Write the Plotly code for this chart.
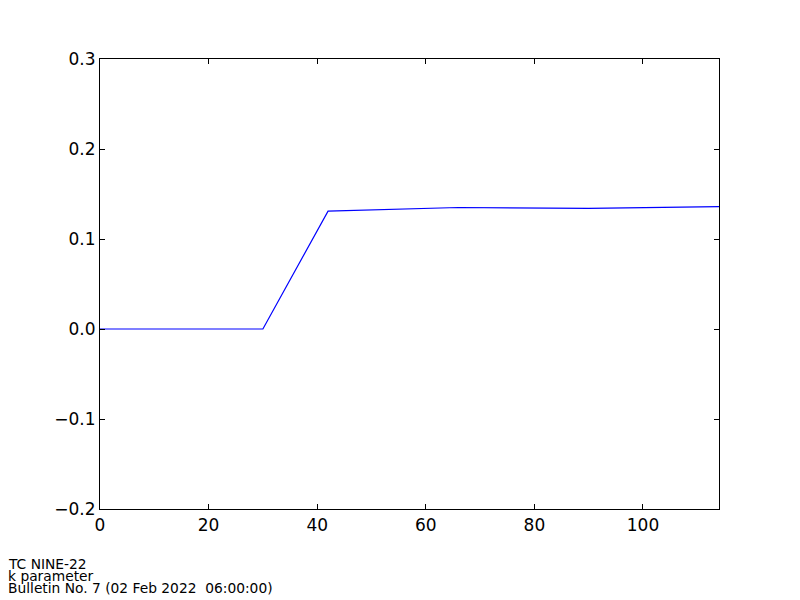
import plotly.graph_objects as go

hours = [0, 30, 42, 66, 90, 114]
k_param = [0.0, 0.0, 0.131, 0.135, 0.134, 0.136]
footer = ["TC NINE-22", "k parameter", "Bulletin No. 7 (02 Feb 2022  06:00:00)"]

fig = go.Figure()
fig.add_trace(go.Scatter(x=hours, y=k_param, mode="lines",
                         line=dict(color="#0000ff", width=1.2)))

axis_common = dict(showgrid=False, zeroline=False, showline=True, linecolor="black",
                   linewidth=1.2, mirror="ticks", ticks="inside", ticklen=5,
                   tickcolor="black", automargin=False,
                   tickfont=dict(family="DejaVu Sans", size=17, color="black"))
fig.update_xaxes(range=[0, 114], tickvals=[0, 20, 40, 60, 80, 100], **axis_common)
fig.update_yaxes(range=[-0.2, 0.3], tickvals=[-0.2, -0.1, 0.0, 0.1, 0.2, 0.3],
                 tickformat=".1f", **axis_common)

for i, txt in enumerate(footer):
    fig.add_annotation(text=txt, xref="paper", yref="paper", x=-93/619,
                       y=-(55 + 12 * i) / 450, xanchor="left", yanchor="middle",
                       showarrow=False, borderpad=0,
                       font=dict(family="DejaVu Sans", size=13.8, color="black"))

fig.update_layout(width=792, height=592,
                  margin=dict(l=92, r=81, t=51, b=91, autoexpand=False),
                  plot_bgcolor="white", paper_bgcolor="white", showlegend=False)
fig.write_html("out.html")
